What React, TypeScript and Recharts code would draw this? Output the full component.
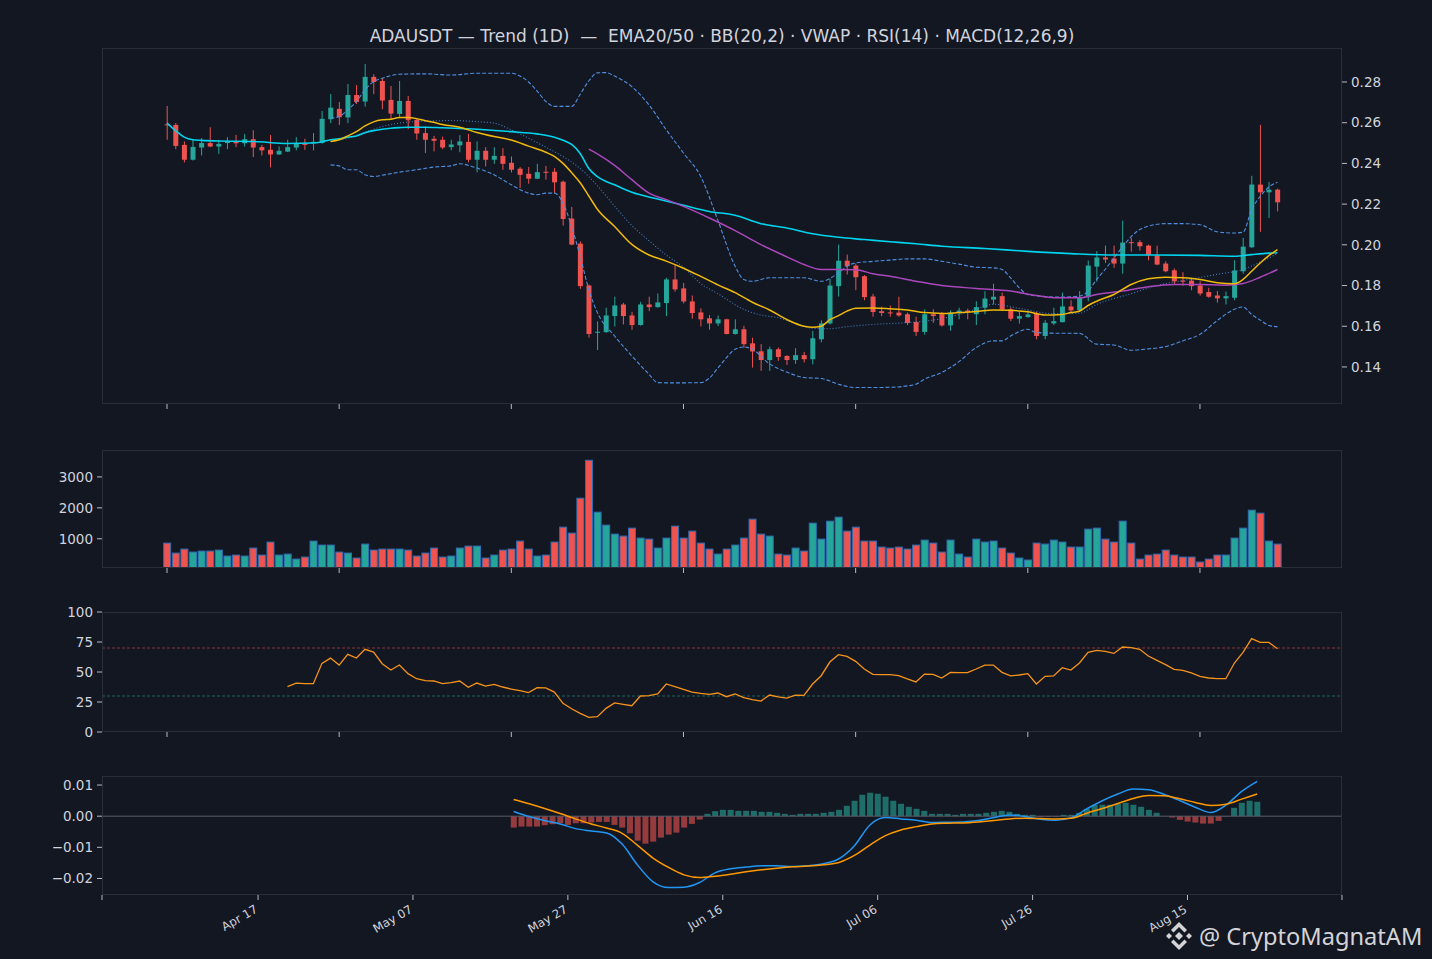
import React from 'react';
import { ComposedChart, Bar, Line, XAxis, YAxis, ReferenceLine } from 'recharts';

// ---- daily candles, index 0 = Apr 17 ----
const opens = [
  0.2592, 0.2589, 0.2491, 0.2418, 0.2478, 0.25, 0.2483, 0.25, 0.2508, 0.2499,
  0.2519, 0.248, 0.2467, 0.2444, 0.2458, 0.2478, 0.25, 0.25, 0.25, 0.2617,
  0.2668, 0.2626, 0.2736, 0.2704, 0.2825, 0.2805, 0.2712, 0.2643, 0.2707, 0.2614,
  0.2549, 0.2521, 0.2516, 0.248, 0.2489, 0.2506, 0.2418, 0.2462, 0.2418, 0.2437,
  0.2403, 0.2374, 0.2349, 0.2325, 0.2359, 0.2359, 0.231, 0.2129, 0.2006, 0.18,
  0.1568, 0.1571, 0.165, 0.1707, 0.1653, 0.1606, 0.1707, 0.1694, 0.1714, 0.183,
  0.1786, 0.1722, 0.1668, 0.1639, 0.1614, 0.1634, 0.1562, 0.1585, 0.1516, 0.1477,
  0.1434, 0.1487, 0.1454, 0.1434, 0.1458, 0.1438, 0.1536, 0.1614, 0.1797, 0.1922,
  0.1898, 0.1846, 0.1746, 0.1674, 0.1668, 0.1667, 0.1659, 0.1621, 0.1572, 0.1659,
  0.1659, 0.1604, 0.167, 0.1677, 0.1659, 0.1691, 0.1731, 0.1748, 0.1683, 0.1637,
  0.1645, 0.1663, 0.1552, 0.1614, 0.162, 0.1697, 0.1678, 0.1743, 0.1893, 0.1938,
  0.1933, 0.1908, 0.2013, 0.2013, 0.1996, 0.1949, 0.1908, 0.1875, 0.1824, 0.1824,
  0.18, 0.1768, 0.1751, 0.1737, 0.174, 0.187, 0.1988, 0.2296, 0.2258, 0.2271,
];
const highs = [
  0.2682, 0.2598, 0.2508, 0.2516, 0.2524, 0.2578, 0.2516, 0.2529, 0.254, 0.2545,
  0.2563, 0.2491, 0.254, 0.2483, 0.2516, 0.2529, 0.2521, 0.2549, 0.2658, 0.2741,
  0.2702, 0.279, 0.2785, 0.2888, 0.2838, 0.2818, 0.278, 0.2805, 0.2731, 0.2622,
  0.2581, 0.2535, 0.2532, 0.2516, 0.2539, 0.2545, 0.2508, 0.248, 0.248, 0.2475,
  0.2434, 0.2382, 0.2382, 0.2398, 0.2388, 0.2377, 0.2316, 0.2186, 0.2017, 0.1805,
  0.1624, 0.1691, 0.1745, 0.1715, 0.1671, 0.172, 0.1745, 0.1761, 0.1838, 0.1902,
  0.1813, 0.1751, 0.1688, 0.1655, 0.1653, 0.1637, 0.1634, 0.1602, 0.1544, 0.1512,
  0.15, 0.1495, 0.1458, 0.1492, 0.1474, 0.1577, 0.1629, 0.1833, 0.2001, 0.1952,
  0.1908, 0.1851, 0.1759, 0.1696, 0.1702, 0.1745, 0.1667, 0.1647, 0.1683, 0.1683,
  0.167, 0.1678, 0.1691, 0.1686, 0.1723, 0.1772, 0.1809, 0.1765, 0.1692, 0.1671,
  0.1678, 0.1671, 0.163, 0.1691, 0.1765, 0.1728, 0.1773, 0.1923, 0.1969, 0.1996,
  0.1996, 0.2119, 0.2034, 0.2023, 0.2001, 0.1996, 0.1919, 0.1884, 0.1865, 0.1838,
  0.1821, 0.1789, 0.1773, 0.177, 0.1924, 0.2034, 0.2339, 0.2589, 0.2309, 0.2276,
];
const lows = [
  0.2516, 0.247, 0.2405, 0.2414, 0.2439, 0.248, 0.2447, 0.247, 0.248, 0.2483,
  0.2431, 0.2439, 0.238, 0.2442, 0.2456, 0.2464, 0.2467, 0.2464, 0.2497, 0.2598,
  0.2589, 0.2598, 0.2692, 0.2679, 0.274, 0.2666, 0.2614, 0.2622, 0.2568, 0.2516,
  0.2451, 0.2459, 0.247, 0.2464, 0.2455, 0.2405, 0.2356, 0.2385, 0.2398, 0.2369,
  0.2356, 0.2279, 0.23, 0.2323, 0.232, 0.2254, 0.2094, 0.1998, 0.1784, 0.1544,
  0.1483, 0.1568, 0.1598, 0.1609, 0.1583, 0.1603, 0.1674, 0.1691, 0.165, 0.177,
  0.1712, 0.1637, 0.1599, 0.1583, 0.1601, 0.156, 0.1559, 0.1495, 0.1397, 0.1381,
  0.1381, 0.143, 0.141, 0.1415, 0.1422, 0.1413, 0.1521, 0.1609, 0.1746, 0.1854,
  0.1777, 0.1728, 0.1647, 0.165, 0.1647, 0.1647, 0.1606, 0.1552, 0.1559, 0.1617,
  0.1598, 0.1578, 0.1634, 0.1634, 0.1606, 0.1659, 0.1707, 0.1675, 0.1625, 0.1613,
  0.1642, 0.1536, 0.1536, 0.1606, 0.1619, 0.1662, 0.1675, 0.1723, 0.1819, 0.1911,
  0.1887, 0.1858, 0.1966, 0.1972, 0.1924, 0.19, 0.1865, 0.1805, 0.1799, 0.1777,
  0.1751, 0.174, 0.1716, 0.1707, 0.1728, 0.1858, 0.1985, 0.2064, 0.2132, 0.2164,
];
const closes = [
  0.2588, 0.2486, 0.2418, 0.2481, 0.25, 0.2483, 0.2496, 0.2508, 0.2499, 0.2519,
  0.2478, 0.2464, 0.2444, 0.2462, 0.248, 0.25, 0.2491, 0.2506, 0.2619, 0.2674,
  0.2627, 0.2736, 0.2702, 0.2825, 0.28, 0.2709, 0.2645, 0.2707, 0.2612, 0.2547,
  0.2516, 0.2511, 0.2478, 0.2493, 0.2508, 0.2418, 0.2462, 0.2418, 0.2437, 0.2398,
  0.2369, 0.2344, 0.2325, 0.2357, 0.2354, 0.2307, 0.2127, 0.2001, 0.1797, 0.1562,
  0.1573, 0.1653, 0.1702, 0.165, 0.1606, 0.1707, 0.1694, 0.1717, 0.183, 0.1781,
  0.1722, 0.1665, 0.1634, 0.1614, 0.1634, 0.1562, 0.1585, 0.1512, 0.1476, 0.1434,
  0.1487, 0.1449, 0.1434, 0.1458, 0.1438, 0.1541, 0.1614, 0.18, 0.1922, 0.1895,
  0.1841, 0.1743, 0.167, 0.1665, 0.1665, 0.1653, 0.1616, 0.1572, 0.1659, 0.165,
  0.1604, 0.1667, 0.1677, 0.167, 0.1694, 0.1736, 0.1745, 0.1683, 0.1637, 0.165,
  0.1658, 0.1552, 0.1617, 0.1625, 0.1697, 0.1678, 0.1743, 0.1898, 0.1938, 0.1928,
  0.1908, 0.2011, 0.2008, 0.1993, 0.1949, 0.1903, 0.187, 0.1821, 0.1821, 0.1797,
  0.1761, 0.1745, 0.1737, 0.1748, 0.1874, 0.1991, 0.2296, 0.2258, 0.2271, 0.2209,
];
const volumes = [
  861, 538, 667, 570, 602, 602, 634, 441, 473, 441,
  699, 473, 893, 473, 505, 344, 409, 925, 796, 796,
  570, 538, 377, 828, 634, 667, 667, 667, 634, 441,
  538, 699, 409, 441, 699, 764, 764, 377, 473, 634,
  667, 925, 667, 441, 473, 893, 1376, 1183, 2312, 3539,
  1860, 1441, 1151, 1086, 1344, 1022, 989, 699, 1022, 1409,
  1022, 1248, 861, 667, 505, 667, 796, 1022, 1634, 1151,
  1086, 505, 473, 699, 602, 1505, 989, 1570, 1699, 1248,
  1376, 925, 925, 732, 699, 732, 667, 796, 957, 861,
  570, 957, 505, 409, 989, 893, 925, 699, 538, 377,
  313, 861, 828, 957, 893, 732, 732, 1312, 1344, 989,
  893, 1570, 861, 344, 473, 505, 634, 473, 409, 409,
  248, 344, 473, 473, 1022, 1344, 1925, 1829, 925, 828,
];

// ---- overlays as [bar index, value] ----
const vwapPts: [number, number][] = [
  [0, 0.2598], [1, 0.2561], [2, 0.2529], [3, 0.2516], [4, 0.2513], [6, 0.251], [10, 0.2508],
  [14, 0.2498], [17, 0.25], [18, 0.2506], [19, 0.2516], [20, 0.2521], [21, 0.2529], [22, 0.2535],
  [23, 0.2551], [24, 0.2561], [25, 0.2568], [26, 0.2573], [27, 0.2576], [28, 0.2578], [30, 0.2578],
  [32, 0.2575], [35, 0.257], [40, 0.2556], [43, 0.2545], [45, 0.2529], [46, 0.2514], [47, 0.2493],
  [48, 0.2449], [49, 0.2375], [50, 0.2335], [52, 0.2295], [54, 0.2258], [57, 0.2225], [60, 0.2194],
  [63, 0.2164], [66, 0.2145], [69, 0.2104], [72, 0.2083], [75, 0.2054], [78, 0.2037], [81, 0.2026],
  [84, 0.2015], [87, 0.2005], [90, 0.1993], [95, 0.1982], [100, 0.1968], [105, 0.1957], [110, 0.195],
  [115, 0.195], [120, 0.1948], [124, 0.1944], [126, 0.1952], [128, 0.1959], [129, 0.1961],
];
const ema20Pts: [number, number][] = [
  [19, 0.2508], [20, 0.2516], [21, 0.2535], [22, 0.2556], [23, 0.2584], [24, 0.2604], [25, 0.2614],
  [26, 0.2617], [27, 0.2625], [28, 0.2625], [29, 0.262], [30, 0.261], [31, 0.2602], [32, 0.2591],
  [34, 0.2578], [36, 0.2552], [38, 0.2532], [40, 0.2515], [42, 0.2485], [44, 0.2455], [45, 0.2435],
  [46, 0.24], [47, 0.2355], [48, 0.2305], [49, 0.224], [50, 0.2175], [52, 0.209], [54, 0.2002],
  [56, 0.195], [58, 0.192], [60, 0.1885], [62, 0.1845], [64, 0.1803], [66, 0.1765], [68, 0.1718],
  [70, 0.168], [72, 0.1633], [74, 0.16], [75, 0.1595], [76, 0.16], [77, 0.1632], [78, 0.1652],
  [79, 0.1674], [80, 0.1688], [82, 0.169], [84, 0.1686], [86, 0.168], [88, 0.1667], [90, 0.1663],
  [92, 0.1667], [94, 0.1672], [96, 0.168], [98, 0.1678], [100, 0.1671], [102, 0.1655], [104, 0.1658],
  [105, 0.1667], [106, 0.1674], [107, 0.1702], [108, 0.1723], [110, 0.1756], [112, 0.1805],
  [114, 0.1833], [116, 0.1841], [118, 0.1838], [120, 0.183], [122, 0.1814], [124, 0.1809],
  [125, 0.183], [126, 0.187], [127, 0.1911], [128, 0.1947], [129, 0.1977],
];
const ema50Pts: [number, number][] = [
  [49, 0.247], [50, 0.2447], [52, 0.239], [54, 0.232], [56, 0.2254], [58, 0.2222], [60, 0.2189],
  [63, 0.2132], [66, 0.207], [69, 0.2001], [72, 0.1941], [74, 0.1903], [76, 0.1879], [78, 0.1879],
  [80, 0.1878], [82, 0.1858], [84, 0.1846], [87, 0.1821], [90, 0.18], [94, 0.1786], [98, 0.1773],
  [101, 0.1751], [103, 0.174], [106, 0.174], [108, 0.1756], [111, 0.1773], [114, 0.1794],
  [117, 0.1805], [120, 0.1805], [123, 0.1802], [125, 0.181], [127, 0.1841], [129, 0.1879],
];
const bbMidPts: [number, number][] = [
  [19, 0.2508], [21, 0.2524], [23, 0.2552], [25, 0.2581], [27, 0.2598], [29, 0.2606], [31, 0.2609],
  [33, 0.2611], [36, 0.2605], [38, 0.2598], [40, 0.2565], [42, 0.2524], [44, 0.248], [46, 0.2434],
  [48, 0.2375], [50, 0.229], [52, 0.219], [54, 0.2095], [56, 0.202], [58, 0.195], [60, 0.189],
  [62, 0.181], [64, 0.176], [67, 0.1683], [69, 0.1655], [71, 0.1642], [73, 0.1615], [75, 0.159],
  [77, 0.1588], [79, 0.1598], [82, 0.1609], [86, 0.1618], [90, 0.1637], [94, 0.1683], [96, 0.1708],
  [99, 0.1688], [103, 0.1662], [106, 0.1664], [108, 0.1707], [112, 0.176], [115, 0.18],
  [119, 0.1832], [122, 0.1855], [125, 0.1879], [127, 0.1915], [129, 0.1957],
];
const bbUpperPts: [number, number][] = [
  [19, 0.2622], [20, 0.263], [21, 0.2663], [22, 0.2704], [23, 0.2761], [24, 0.2802], [25, 0.2818],
  [27, 0.2838], [30, 0.284], [33, 0.2834], [36, 0.2843], [40, 0.2843], [41, 0.283], [42, 0.28],
  [43, 0.2755], [44, 0.2705], [45, 0.268], [47, 0.268], [48, 0.274], [49, 0.2805], [50, 0.2845],
  [51, 0.2846], [52, 0.2829], [54, 0.2777], [56, 0.2687], [58, 0.2565], [60, 0.2451], [62, 0.2336],
  [64, 0.212], [66, 0.1895], [67, 0.183], [68, 0.1821], [70, 0.1838], [74, 0.1838], [76, 0.1821],
  [78, 0.1862], [79, 0.1895], [80, 0.1911], [82, 0.1919], [84, 0.1925], [86, 0.1931], [88, 0.1931],
  [90, 0.1919], [92, 0.1905], [94, 0.189], [96, 0.1887], [97, 0.1879], [98, 0.1838], [99, 0.1789],
  [100, 0.1756], [102, 0.1746], [104, 0.1743], [106, 0.1748], [107, 0.1772], [108, 0.183],
  [109, 0.188], [110, 0.1935], [111, 0.199], [112, 0.204], [113, 0.2075], [114, 0.2092],
  [116, 0.2104], [118, 0.2104], [120, 0.2099], [122, 0.2064], [124, 0.2058], [125, 0.2062],
  [126, 0.2173], [127, 0.2238], [128, 0.2284], [129, 0.2307],
];
const bbLowerPts: [number, number][] = [
  [19, 0.2393], [20, 0.2388], [21, 0.2369], [22, 0.2369], [23, 0.2344], [24, 0.2336], [25, 0.2342],
  [27, 0.2357], [29, 0.2369], [31, 0.2382], [33, 0.2388], [34, 0.2398], [36, 0.2377], [38, 0.2344],
  [40, 0.2295], [42, 0.2254], [43, 0.2246], [44, 0.2254], [45, 0.2254], [46, 0.2206], [47, 0.2091],
  [48, 0.1944], [49, 0.1781], [50, 0.1667], [52, 0.1552], [54, 0.1454], [56, 0.1364], [57, 0.1323],
  [58, 0.1322], [60, 0.1322], [62, 0.1323], [63, 0.1345], [64, 0.1395], [65, 0.1446], [66, 0.1487],
  [67, 0.1498], [68, 0.1487], [70, 0.1415], [72, 0.1375], [74, 0.1348], [76, 0.1343], [78, 0.1315],
  [80, 0.1299], [82, 0.1299], [84, 0.13], [86, 0.1307], [87, 0.1315], [88, 0.134], [90, 0.1373],
  [92, 0.1426], [94, 0.1495], [96, 0.1528], [97, 0.1528], [98, 0.1552], [100, 0.1585], [101, 0.1569],
  [103, 0.1566], [106, 0.1565], [108, 0.1512], [110, 0.1508], [112, 0.1482], [114, 0.1489],
  [116, 0.15], [118, 0.1528], [120, 0.156], [122, 0.1628], [124, 0.1683], [125, 0.1695],
  [126, 0.1658], [127, 0.163], [128, 0.1604], [129, 0.1598],
];

// RSI(14) from bar 14
const rsiStart = 14;
const rsiValues = [
  37.8, 40.8, 40.3, 40.3, 57.2, 61.6, 55.8, 64.7, 61.6, 68.9,
  66.6, 56.9, 51.6, 55.8, 48.6, 44.4, 42.8, 42.5, 40.3, 41.1,
  42.5, 37.2, 40.8, 38.3, 39.7, 37.5, 35.8, 34.4, 32.8, 36.9,
  36.7, 33.3, 23.9, 19.4, 15.5, 12.2, 12.8, 19.7, 24.2, 23.0,
  21.9, 30.0, 30.3, 31.7, 40.0, 37.8, 35.5, 33.3, 32.2, 31.4,
  32.5, 29.4, 31.7, 28.6, 26.9, 25.8, 30.8, 29.2, 28.3, 30.8,
  30.5, 40.0, 46.9, 58.3, 64.4, 63.0, 58.9, 52.5, 48.1, 47.8,
  47.8, 46.9, 44.2, 41.7, 48.3, 48.1, 45.0, 49.7, 49.4, 49.4,
  52.5, 55.8, 55.8, 49.7, 46.7, 47.5, 48.6, 40.0, 46.4, 46.7,
  53.6, 51.6, 57.5, 66.4, 68.0, 67.2, 65.5, 70.8, 70.3, 68.9,
  63.3, 59.7, 56.1, 52.2, 51.4, 49.2, 46.4, 45.0, 44.4, 44.4,
  57.5, 66.4, 77.8, 74.7, 74.7, 69.4,
];

// MACD panel is on a day axis (day 0 = Apr 17)
const macdPts: [number, number][] = [
  [33, 0.00149], [35, -0.00012], [37, -0.00141], [39, -0.00249], [41, -0.00399], [43, -0.00474],
  [45, -0.00539], [47, -0.00894], [49, -0.01571], [51, -0.02109], [53, -0.02291], [55, -0.0228],
  [57, -0.02129], [59, -0.01819], [61, -0.01689], [63, -0.01635], [65, -0.01593], [67, -0.01593],
  [69, -0.01614], [71, -0.01593], [73, -0.01528], [75, -0.01367], [77, -0.00948], [79, -0.00281],
  [81, -0.00045], [83, -0.00087], [85, -0.0013], [87, -0.00205], [89, -0.00194], [91, -0.00184],
  [93, -0.00141], [95, -0.00045], [97, 0.00042], [99, -0.00012], [101, -0.00098], [103, -0.0013],
  [105, -0.00045], [107, 0.00235], [109, 0.00494], [111, 0.0071], [113, 0.00871], [115, 0.00849],
  [117, 0.00698], [119, 0.00504], [121, 0.00289], [123, 0.00117], [125, 0.00364], [127, 0.00795],
  [129, 0.01117],
];
const signalPts: [number, number][] = [
  [33, 0.00537], [35, 0.00398], [37, 0.00246], [39, 0.00085], [41, -0.00087], [43, -0.00249],
  [45, -0.00378], [47, -0.00549], [49, -0.00936], [51, -0.01345], [53, -0.01646], [55, -0.01883],
  [57, -0.01969], [59, -0.01925], [61, -0.01861], [63, -0.01786], [65, -0.01722], [67, -0.01668],
  [69, -0.01625], [71, -0.01603], [73, -0.0156], [75, -0.01485], [77, -0.01259], [79, -0.00926],
  [81, -0.00625], [83, -0.00442], [85, -0.00335], [87, -0.00249], [89, -0.00227], [91, -0.00216],
  [93, -0.00184], [95, -0.00141], [97, -0.00087], [99, -0.00065], [101, -0.00076], [103, -0.00087],
  [105, -0.00065], [107, 0.00097], [109, 0.00246], [111, 0.00407], [113, 0.00568], [115, 0.00665],
  [117, 0.00655], [119, 0.00558], [121, 0.0044], [123, 0.00343], [125, 0.00386], [127, 0.00548],
  [129, 0.0071],
];
const histStart = 33;
const histValues = [
  -0.00366, -0.00333, -0.00333, -0.00333, -0.0029, -0.00258, -0.00226, -0.0028, -0.00226, -0.00226,
  -0.00204, -0.00183, -0.00183, -0.0028, -0.00366, -0.00548, -0.00785, -0.00882, -0.00817, -0.00688,
  -0.00591, -0.00527, -0.00366, -0.00247, -0.00108, 0.00075, 0.00161, 0.00204, 0.00204, 0.00172,
  0.00172, 0.00172, 0.0014, 0.0014, 0.00108, 0.00075, 0.00043, 0.00075, 0.00075, 0.00075,
  0.00108, 0.0014, 0.00204, 0.00333, 0.00495, 0.00688, 0.00753, 0.0072, 0.00624, 0.00495,
  0.00398, 0.00301, 0.00237, 0.00172, 0.00075, 0.00075, 0.00075, 0.00043, 0.00075, 0.00075,
  0.00075, 0.00108, 0.0014, 0.00172, 0.0014, 0.00075, 0.00043, 0.00043, -0.00022, -0.00022,
  -0.00022, 0.00043, 0.00043, 0.00108, 0.00237, 0.00366, 0.00366, 0.00366, 0.00398, 0.0043,
  0.00366, 0.00301, 0.00204, 0.00108, 0.0, -0.00043, -0.00118, -0.00172, -0.00204, -0.00237,
  -0.00237, -0.00151, -0.00011, 0.00269, 0.0043, 0.00495, 0.00462,
];

// ---- axes ----
const barTicks = [0, 20, 40, 60, 80, 100, 120];
const dateTicks = [0, 20, 40, 60, 80, 100, 120];
const dateLabels = ['Apr 17', 'May 07', 'May 27', 'Jun 16', 'Jul 06', 'Jul 26', 'Aug 15'];
const priceTicks = [0.14, 0.16, 0.18, 0.2, 0.22, 0.24, 0.26, 0.28];
const volumeTicks = [1000, 2000, 3000];
const rsiTicks = [0, 25, 50, 75, 100];
const macdTicks = [-0.02, -0.01, 0, 0.01];

const barDomain: [number, number] = [-7.55, 136.5];
const dayDomain: [number, number] = [-20.15, 139.95];
const priceDomain: [number, number] = [0.1218, 0.2967];
const volumeDomain: [number, number] = [55, 3871];
const rsiDomain: [number, number] = [0, 100];
const macdDomain: [number, number] = [-0.0253, 0.0129];

// ---- style ----
const W = 1432;
const H = 959;
const LEFT = 102;
const RIGHT_PAD = 90;
const PAD_TOP = 10; // room so the top tick label is not clipped
const BG = '#131722';
const UP = '#26a69a';
const DOWN = '#ef5350';
const TXT = '#d1d4dc';
const TICK = '#b8bbc3';
const SPINE = '#2a2e39';
const FONT = '"DejaVu Sans", sans-serif';
const BB = '#4f8fdf';

const candles = opens.map((o, i) => ({
  x: i,
  o,
  h: highs[i],
  l: lows[i],
  c: closes[i],
  v: volumes[i],
  range: [lows[i], highs[i]],
}));
const pts = (arr: [number, number][]) => arr.map(([x, y]) => ({ x, y }));
const rsiData = rsiValues.map((y, k) => ({ x: k + rsiStart, y }));
const histData = histValues.map((h, k) => ({ x: k + histStart, h }));

const tickStyle = { fill: TXT, fontSize: 13.5, fontFamily: FONT };
const minus = (s: string) => s.replace('-', '\u2212');

const Candle = (p: any) => {
  const { x, y, width, height, payload } = p;
  if (!payload || !isFinite(height)) return null;
  const { o, h, l, c } = payload;
  const k = height / (h - l);
  const cx = x + width / 2;
  const yO = y + (h - o) * k;
  const yC = y + (h - c) * k;
  const color = c >= o ? UP : DOWN;
  return (
    <g>
      <line x1={cx} x2={cx} y1={y} y2={y + height} stroke={color} strokeWidth={1} />
      <rect x={x} y={Math.min(yO, yC)} width={width} height={Math.max(Math.abs(yO - yC), 1)} fill={color} />
    </g>
  );
};

const VolumeBar = (p: any) => {
  const { x, y, width, height, payload } = p;
  if (!payload) return null;
  const color = payload.c >= payload.o ? UP : DOWN;
  return <rect x={x} y={y} width={width} height={height} fill={color} stroke="#2f6db3" strokeWidth={1} />;
};

const HistBar = (p: any) => {
  const { x, y, width, height, payload } = p;
  if (!payload) return null;
  const top = Math.min(y, y + height);
  return (
    <rect x={x} y={top} width={width} height={Math.abs(height)} fill={payload.h >= 0 ? UP : DOWN} fillOpacity={0.6} />
  );
};

const DateTick = (p: any) => {
  const { x, y, payload } = p;
  const k = dateTicks.indexOf(payload.value);
  if (k < 0) return null;
  const ax = x - 4;
  const ay = y + 2;
  return (
    <text
      x={ax}
      y={ay}
      transform={`rotate(-30 ${ax} ${ay})`}
      textAnchor="end"
      dominantBaseline="hanging"
      fill={TXT}
      fontSize={11.8}
      fontFamily={FONT}
    >
      {dateLabels[k]}
    </text>
  );
};

const BarXAxis = () => (
  <XAxis
    dataKey="x"
    type="number"
    domain={barDomain}
    allowDataOverflow
    ticks={barTicks}
    interval={0}
    tickFormatter={() => ''}
    tickSize={5}
    tickLine={{ stroke: TICK }}
    axisLine={false}
    height={12}
  />
);

const panels = [
  { top: 48, h: 356 },
  { top: 450, h: 118 },
  { top: 612, h: 120 },
  { top: 776, h: 119 },
];

const Watermark = () => (
  <g>
    <g transform="translate(1165 922)" fill="#d4d4d8">
      <polygon points="14,10 18,14 14,18 10,14" />
      <polygon points="4,11 7,14 4,17 1,14" />
      <polygon points="24,11 27,14 24,17 21,14" />
      <polygon points="14,0 22,8 19.5,10.5 14,5 8.5,10.5 6,8" />
      <polygon points="14,28 22,20 19.5,17.5 14,23 8.5,17.5 6,20" />
    </g>
    <text x={1199} y={945} fill="#d4d4d8" fontSize={23.6} fontFamily='"Noto Sans", sans-serif'>
      @ CryptoMagnatAM
    </text>
  </g>
);

export default function App() {
  return (
    <div style={{ position: 'relative', width: W, height: H, background: BG, overflow: 'hidden' }}>
      <style>{'body{margin:0;background:#131722}'}</style>

      {/* price */}
      <div style={{ position: 'absolute', left: 0, top: 48 - PAD_TOP }}>
        <ComposedChart width={W} height={356 + 12 + PAD_TOP} data={candles} margin={{ top: PAD_TOP, right: 0, bottom: 0, left: LEFT }}>
          <BarXAxis />
          <YAxis
            orientation="right"
            type="number"
            domain={priceDomain}
            allowDataOverflow
            ticks={priceTicks}
            interval={0}
            width={RIGHT_PAD}
            tickSize={5}
            tickMargin={4}
            tick={tickStyle}
            tickLine={{ stroke: TICK }}
            axisLine={false}
            tickFormatter={(v: number) => v.toFixed(2)}
          />
          <Bar dataKey="range" barSize={5} shape={Candle} isAnimationActive={false} />
          <Line data={pts(bbUpperPts)} dataKey="y" type="monotone" stroke={BB} strokeWidth={1.1} strokeDasharray="4 2" dot={false} connectNulls isAnimationActive={false} />
          <Line data={pts(bbLowerPts)} dataKey="y" type="monotone" stroke={BB} strokeWidth={1.1} strokeDasharray="4 2" dot={false} connectNulls isAnimationActive={false} />
          <Line data={pts(bbMidPts)} dataKey="y" type="monotone" stroke={BB} strokeOpacity={0.85} strokeWidth={1.1} strokeDasharray="1 2" dot={false} connectNulls isAnimationActive={false} />
          <Line data={pts(vwapPts)} dataKey="y" type="monotone" stroke="#00d4ee" strokeWidth={1.6} dot={false} connectNulls isAnimationActive={false} />
          <Line data={pts(ema50Pts)} dataKey="y" type="monotone" stroke="#ab47bc" strokeWidth={1.5} dot={false} connectNulls isAnimationActive={false} />
          <Line data={pts(ema20Pts)} dataKey="y" type="monotone" stroke="#f0b90b" strokeWidth={1.5} dot={false} connectNulls isAnimationActive={false} />
        </ComposedChart>
      </div>

      {/* volume */}
      <div style={{ position: 'absolute', left: 0, top: 450 - PAD_TOP }}>
        <ComposedChart width={W} height={118 + 12 + PAD_TOP} data={candles} margin={{ top: PAD_TOP, right: RIGHT_PAD, bottom: 0, left: 0 }}>
          <BarXAxis />
          <YAxis
            type="number"
            domain={volumeDomain}
            allowDataOverflow
            ticks={volumeTicks}
            interval={0}
            width={LEFT}
            tickSize={5}
            tickMargin={4}
            tick={tickStyle}
            tickLine={{ stroke: TICK }}
            axisLine={false}
          />
          <Bar dataKey="v" barSize={7} shape={VolumeBar} isAnimationActive={false} />
        </ComposedChart>
      </div>

      {/* RSI */}
      <div style={{ position: 'absolute', left: 0, top: 612 - PAD_TOP }}>
        <ComposedChart width={W} height={120 + 12 + PAD_TOP} data={rsiData} margin={{ top: PAD_TOP, right: RIGHT_PAD, bottom: 0, left: 0 }}>
          <BarXAxis />
          <YAxis
            type="number"
            domain={rsiDomain}
            allowDataOverflow
            ticks={rsiTicks}
            interval={0}
            width={LEFT}
            tickSize={5}
            tickMargin={4}
            tick={tickStyle}
            tickLine={{ stroke: TICK }}
            axisLine={false}
          />
          <ReferenceLine y={70} stroke={DOWN} strokeOpacity={0.6} strokeDasharray="3 2" strokeWidth={0.9} />
          <ReferenceLine y={30} stroke={UP} strokeOpacity={0.6} strokeDasharray="3 2" strokeWidth={0.9} />
          <Line dataKey="y" type="linear" stroke="#f7931a" strokeWidth={1.3} dot={false} isAnimationActive={false} />
        </ComposedChart>
      </div>

      {/* MACD */}
      <div style={{ position: 'absolute', left: 0, top: 776 - PAD_TOP }}>
        <ComposedChart width={W} height={119 + 64 + PAD_TOP} data={histData} margin={{ top: PAD_TOP, right: RIGHT_PAD, bottom: 0, left: 0 }}>
          <XAxis
            dataKey="x"
            type="number"
            domain={dayDomain}
            allowDataOverflow
            ticks={[dayDomain[0], ...dateTicks, dayDomain[1]]}
            interval={0}
            tick={DateTick}
            tickSize={5}
            tickLine={{ stroke: TICK }}
            axisLine={false}
            height={64}
          />
          <YAxis
            type="number"
            domain={macdDomain}
            allowDataOverflow
            ticks={macdTicks}
            interval={0}
            width={LEFT}
            tickSize={5}
            tickMargin={4}
            tick={tickStyle}
            tickLine={{ stroke: TICK }}
            axisLine={false}
            tickFormatter={(v: number) => minus(v.toFixed(2))}
          />
          <ReferenceLine y={0} stroke="#5a5e69" strokeWidth={1} />
          <Bar dataKey="h" barSize={6} shape={HistBar} isAnimationActive={false} />
          <Line data={pts(macdPts)} dataKey="y" type="monotone" stroke="#2196f3" strokeWidth={1.5} dot={false} isAnimationActive={false} />
          <Line data={pts(signalPts)} dataKey="y" type="monotone" stroke="#ff9800" strokeWidth={1.5} dot={false} isAnimationActive={false} />
        </ComposedChart>
      </div>

      {/* frames, title, watermark */}
      <svg width={W} height={H} style={{ position: 'absolute', left: 0, top: 0, pointerEvents: 'none' }}>
        {panels.map((p, k) => (
          <rect key={k} x={LEFT + 0.5} y={p.top + 0.5} width={W - LEFT - RIGHT_PAD - 1} height={p.h - 1} fill="none" stroke={SPINE} strokeWidth={1} />
        ))}
        <text
          x={(LEFT + W - RIGHT_PAD) / 2}
          y={42}
          textAnchor="middle"
          fill={TXT}
          fontSize={17}
          fontFamily={FONT}
          xmlSpace="preserve"
          style={{ whiteSpace: 'pre' }}
        >
          {'ADAUSDT \u2014 Trend (1D)  \u2014  EMA20/50 \u00b7 BB(20,2) \u00b7 VWAP \u00b7 RSI(14) \u00b7 MACD(12,26,9)'}
        </text>
        <Watermark />
      </svg>
    </div>
  );
}
